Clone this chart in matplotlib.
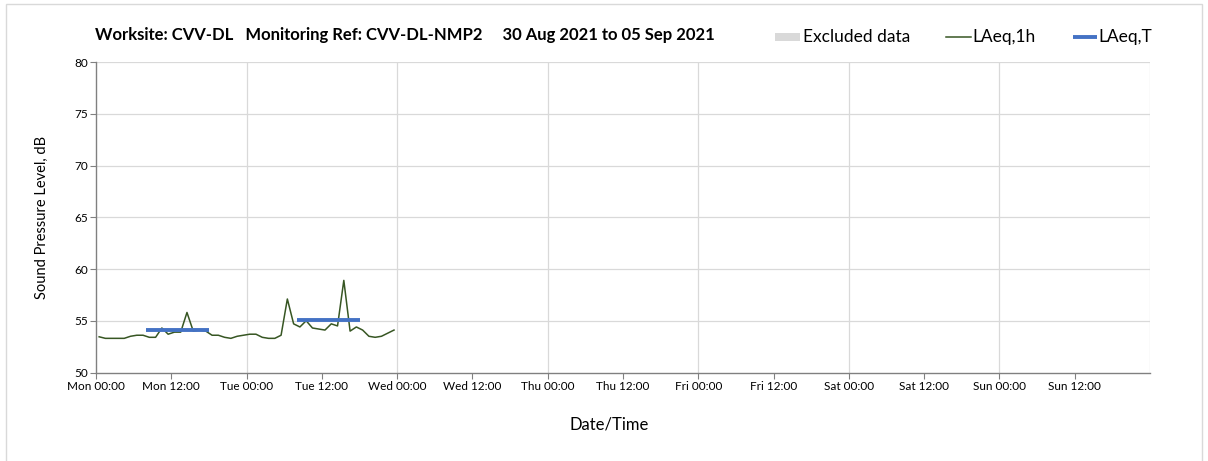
import numpy as np
import matplotlib
matplotlib.use("Agg")
import matplotlib.pyplot as plt
from matplotlib.patches import Rectangle
from matplotlib.lines import Line2D

plt.rcParams['font.family'] = ['Lato', 'DejaVu Sans']

# ---- data ----
title_text = "Worksite: CVV-DL   Monitoring Ref: CVV-DL-NMP2     30 Aug 2021 to 05 Sep 2021"
tick_labels = ["Mon 00:00", "Mon 12:00", "Tue 00:00", "Tue 12:00", "Wed 00:00", "Wed 12:00",
               "Thu 00:00", "Thu 12:00", "Fri 00:00", "Fri 12:00", "Sat 00:00", "Sat 12:00",
               "Sun 00:00", "Sun 12:00"]
# hourly LAeq,1h values starting Mon 00:00 (plotted at hour mid-points)
laeq_1h = [53.45, 53.3, 53.3, 53.3, 53.3, 53.5, 53.6, 53.6, 53.4, 53.4,
           54.3, 53.7, 53.9, 53.9, 55.8, 54.0, 54.1, 54.0, 53.6, 53.6,
           53.4, 53.3, 53.5, 53.6, 53.7, 53.7, 53.4, 53.3, 53.3, 53.6,
           57.1, 54.7, 54.4, 55.0, 54.3, 54.2, 54.1, 54.7, 54.5, 58.9,
           54.0, 54.4, 54.1, 53.5, 53.4, 53.5, 53.8, 54.1]
# LAeq,T periods: start hour, end hour, level
laeqT_start = [8, 32]
laeqT_end = [18, 42]
laeqT_level = [54.1, 55.1]
legend_labels = ["Excluded data", "LAeq,1h", "LAeq,T"]

GREEN = '#375623'
BLUE = '#4472c4'
GREY = '#d9d9d9'

W, H = 1208, 461
fig = plt.figure(figsize=(W / 100, H / 100), dpi=100)
# outer light border
fig.patches.append(Rectangle((6 / W, -0.05), (1202 - 6) / W, (H - 4) / H + 0.05,
                             transform=fig.transFigure, fill=False,
                             edgecolor=GREY, linewidth=1.0))

ax = fig.add_axes([96 / W, 1 - 372.5 / H, (1150 - 96) / W, (372.5 - 62) / H])

hours = np.arange(len(laeq_1h)) + 0.5
ax.plot(hours, laeq_1h, color=GREEN, linewidth=1.1, zorder=3)
for s, e, v in zip(laeqT_start, laeqT_end, laeqT_level):
    ax.plot([s, e], [v, v], color=BLUE, linewidth=2.8, solid_capstyle='butt', zorder=4)

ax.set_xlim(0, 168)
ax.set_ylim(50, 80)
ax.set_xticks(np.arange(0, 168, 12))
ax.set_xticklabels(tick_labels, fontsize=8.5)
ax.set_yticks(np.arange(50, 81, 5))
ax.tick_params(axis='y', labelsize=8.5, length=4, color='#808080', pad=2)
ax.tick_params(axis='x', length=4, color='#808080', pad=2)

for y in range(55, 81, 5):
    ax.axhline(y, color=GREY, linewidth=0.9, zorder=1)
for x in range(24, 169, 24):
    ax.axvline(x, color=GREY, linewidth=0.9, zorder=1)

for sp in ['top', 'right']:
    ax.spines[sp].set_visible(False)
for sp in ['left', 'bottom']:
    ax.spines[sp].set_color('#808080')
    ax.spines[sp].set_linewidth(1.0)

ax.set_ylabel("Sound Pressure Level, dB", fontsize=10.5, labelpad=18)
ax.set_xlabel("Date/Time", fontsize=12)
ax.xaxis.set_label_coords(0.487, -0.143)

fig.text(95 / W, 1 - 35 / H, title_text, fontsize=12, fontweight='bold', va='center', ha='left')

# legend drawn manually in figure pixel positions
ly = 1 - 37 / H
fig.patches.append(Rectangle((775 / W, ly - 4 / H), 25 / W, 8 / H, transform=fig.transFigure,
                             facecolor=GREY, edgecolor='none'))
fig.text(803 / W, ly, legend_labels[0], fontsize=12.5, va='center', ha='left')
fig.add_artist(Line2D([946 / W, 971 / W], [ly, ly], transform=fig.transFigure, color=GREEN, linewidth=1.1))
fig.text(972 / W, ly, legend_labels[1], fontsize=12.5, va='center', ha='left')
fig.add_artist(Line2D([1073 / W, 1097 / W], [ly, ly], transform=fig.transFigure, color=BLUE,
                      linewidth=2.8, solid_capstyle='butt'))
fig.text(1098 / W, ly, legend_labels[2], fontsize=12.5, va='center', ha='left')

fig.savefig("out.png", dpi=100)
